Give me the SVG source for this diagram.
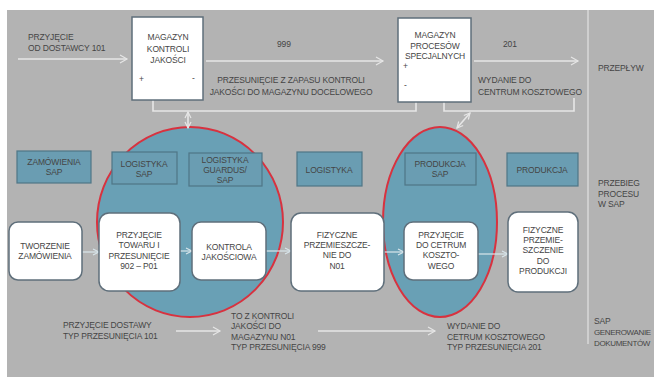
<svg xmlns="http://www.w3.org/2000/svg" width="654" height="379" viewBox="0 0 654 379">
<defs>
<style>
text{font-family:"Liberation Sans",Arial,sans-serif;font-size:8.5px;fill:#454545;letter-spacing:-0.15px}
.c{text-anchor:middle}
.sm{font-size:8px;letter-spacing:-0.35px}
.wb{fill:#ffffff;stroke:#5f6f7b;stroke-width:1.5}
.hb{fill:#6a9db2;stroke:#4f7686;stroke-width:1.2}
.ell{fill:#69a0b5;stroke:#d8323f;stroke-width:2}
.fl{fill:none;stroke:#e6e6e6;stroke-width:1.6}
.ia{fill:none;stroke:#d9e6ec;stroke-width:1.2}
</style>
<marker id="ah" markerWidth="10" markerHeight="10" refX="8" refY="5" orient="auto" markerUnits="userSpaceOnUse">
<path d="M1,1 L8,5 L1,9" fill="none" stroke="#e6e6e6" stroke-width="1.2"/>
</marker>
<marker id="ahs" markerWidth="10" markerHeight="10" refX="8" refY="5" orient="auto-start-reverse" markerUnits="userSpaceOnUse">
<path d="M2,2 L8,5 L2,8" fill="none" stroke="#e6e6e6" stroke-width="1.2"/>
</marker>
<marker id="ahi" markerWidth="10" markerHeight="10" refX="8" refY="5" orient="auto" markerUnits="userSpaceOnUse">
<path d="M2,2 L8,5 L2,8" fill="none" stroke="#d9e6ec" stroke-width="1.1"/>
</marker>
</defs>
<rect x="0" y="0" width="654" height="379" fill="#ffffff"/>
<rect x="7" y="10" width="647" height="367" fill="#b3b3b3"/>
<line x1="588" y1="10" x2="588" y2="344" stroke="#e2e2e2" stroke-width="1.2"/>

<g id="ellipse-logistyka"><ellipse class="ell" cx="190" cy="222" rx="93" ry="95"/></g>
<g id="ellipse-produkcja"><ellipse class="ell" cx="440" cy="222" rx="57" ry="95"/></g>

<g id="connectors">
<line class="fl" x1="18" y1="59" x2="127" y2="59" marker-end="url(#ah)"/>
<line class="fl" x1="206" y1="61" x2="383" y2="61" marker-end="url(#ah)"/>
<line class="fl" x1="474" y1="61" x2="578" y2="61" marker-end="url(#ah)"/>
<polyline class="fl" points="153,100 153,111 416,111 416,102"/>
<polyline class="fl" points="444,102 444,111 574,111 574,98"/>
<line class="fl" x1="188" y1="112" x2="188" y2="128" marker-start="url(#ahs)" marker-end="url(#ahs)"/>
<line class="fl" x1="470" y1="113" x2="457" y2="128" marker-start="url(#ahs)" marker-end="url(#ahs)"/>
<line class="ia" x1="82" y1="252" x2="99" y2="252" marker-end="url(#ahi)"/>
<line class="ia" x1="180" y1="251" x2="192" y2="251" marker-end="url(#ahi)"/>
<line class="ia" x1="266" y1="251" x2="291" y2="251" marker-end="url(#ahi)"/>
<line class="ia" x1="384" y1="252" x2="404" y2="252" marker-end="url(#ahi)"/>
<line class="ia" x1="478" y1="254" x2="508" y2="254" marker-end="url(#ahi)"/>
<line class="fl" x1="176" y1="331" x2="220" y2="331" marker-end="url(#ah)"/>
<line class="fl" x1="318" y1="331" x2="435" y2="331" marker-end="url(#ah)"/>
</g>

<g id="flow-labels">
<text x="28" y="40">PRZYJĘCIE</text>
<text x="28" y="51">OD DOSTAWCY  101</text>
<text x="277" y="47">999</text>
<text class="c" x="291" y="83">PRZESUNIĘCIE Z ZAPASU KONTROLI</text>
<text class="c" x="291" y="95">JAKOŚCI DO MAGAZYNU DOCELOWEGO</text>
<text x="503" y="47">201</text>
<text x="478" y="83">WYDANIE DO</text>
<text x="478" y="95">CENTRUM KOSZTOWEGO</text>
</g>

<g id="magazyn-kontroli">
<rect x="132" y="17" width="71" height="83" fill="#ffffff" stroke="#5f6f7b" stroke-width="1.5"/>
<text class="c" x="168" y="40">MAGAZYN</text>
<text class="c" x="168" y="52">KONTROLI</text>
<text class="c" x="168" y="63">JAKOŚCI</text>
<text x="139" y="82">+</text>
<text x="192" y="81">-</text>
</g>

<g id="magazyn-procesow">
<rect x="398" y="18" width="73" height="84" fill="#ffffff" stroke="#5f6f7b" stroke-width="1.5"/>
<text class="c" x="435" y="38">MAGAZYN</text>
<text class="c" x="435" y="49">PROCESÓW</text>
<text class="c" x="435" y="59">SPECJALNYCH</text>
<text x="403" y="69">+</text>
<text x="404" y="88">-</text>
</g>

<g id="lane-labels">
<text x="598" y="71">PRZEPŁYW</text>
<text x="598" y="186">PRZEBIEG</text>
<text x="598" y="197">PROCESU</text>
<text x="598" y="207">W SAP</text>
<text x="594" y="324">SAP</text>
<text class="sm" x="594" y="335">GENEROWANIE</text>
<text class="sm" x="594" y="346">DOKUMENTÓW</text>
</g>

<g id="h-zamowienia"><rect class="hb" x="17" y="151" width="74" height="32"/>
<text class="c" x="54" y="165">ZAMÓWIENIA</text><text class="c" x="54" y="175">SAP</text></g>
<g id="h-logistyka-sap"><rect class="hb" x="112" y="152" width="65" height="32"/>
<text class="c" x="144" y="167">LOGISTYKA</text><text class="c" x="144" y="177">SAP</text></g>
<g id="h-guardus"><rect class="hb" x="189" y="153" width="73" height="33"/>
<text class="c" x="225" y="163">LOGISTYKA</text><text class="c" x="225" y="173">GUARDUS/</text><text class="c" x="225" y="183">SAP</text></g>
<g id="h-logistyka"><rect class="hb" x="297" y="152" width="65" height="34"/>
<text class="c" x="329" y="173">LOGISTYKA</text></g>
<g id="h-produkcja-sap"><rect class="hb" x="405" y="153" width="71" height="32"/>
<text class="c" x="440" y="167">PRODUKCJA</text><text class="c" x="440" y="177">SAP</text></g>
<g id="h-produkcja"><rect class="hb" x="507" y="153" width="71" height="33"/>
<text class="c" x="542" y="173">PRODUKCJA</text></g>

<g id="n-tworzenie"><rect class="wb" x="9" y="222" width="73" height="58" rx="9"/>
<text class="c" x="45" y="249">TWORZENIE</text><text class="c" x="45" y="259">ZAMÓWIENIA</text></g>
<g id="n-przyjecie-towaru"><rect class="wb" x="99" y="213" width="81" height="78" rx="10"/>
<text class="c" x="139" y="238">PRZYJĘCIE</text><text class="c" x="139" y="248">TOWARU  I</text><text class="c" x="139" y="259">PRZESUNIĘCIE</text><text class="c" x="139" y="269">902 – P01</text></g>
<g id="n-kontrola"><rect class="wb" x="192" y="222" width="74" height="58" rx="9"/>
<text class="c" x="229" y="250">KONTROLA</text><text class="c" x="229" y="260">JAKOŚCIOWA</text></g>
<g id="n-fizyczne-n01"><rect class="wb" x="291" y="213" width="93" height="78" rx="10"/>
<text class="c" x="337" y="238">FIZYCZNE</text><text class="c" x="337" y="248">PRZEMIESZCZE-</text><text class="c" x="337" y="258">NIE DO</text><text class="c" x="337" y="269">N01</text></g>
<g id="n-przyjecie-cetrum"><rect class="wb" x="404" y="222" width="74" height="58" rx="9"/>
<text class="c" x="441" y="238">PRZYJĘCIE</text><text class="c" x="441" y="248">DO CETRUM</text><text class="c" x="441" y="258">KOSZTO-</text><text class="c" x="441" y="269">WEGO</text></g>
<g id="n-fizyczne-produkcja"><rect class="wb" x="508" y="212" width="70" height="80" rx="10"/>
<text class="c" x="543" y="233">FIZYCZNE</text><text class="c" x="543" y="243">PRZEMIE-</text><text class="c" x="543" y="253">SZCZENIE</text><text class="c" x="543" y="264">DO</text><text class="c" x="543" y="274">PRODUKCJI</text></g>

<g id="doc-labels">
<text x="63" y="328">PRZYJĘCIE DOSTAWY</text>
<text x="63" y="339">TYP PRZESUNIĘCIA 101</text>
<text x="231" y="319">TO Z KONTROLI</text>
<text x="231" y="329">JAKOŚCI DO</text>
<text x="231" y="340">MAGAZYNU N01</text>
<text x="231" y="350">TYP PRZESUNIĘCIA 999</text>
<text x="447" y="329">WYDANIE DO</text>
<text x="447" y="340">CETRUM KOSZTOWEGO</text>
<text x="447" y="350">TYP PRZESUNIĘCIA 201</text>
</g>
</svg>
